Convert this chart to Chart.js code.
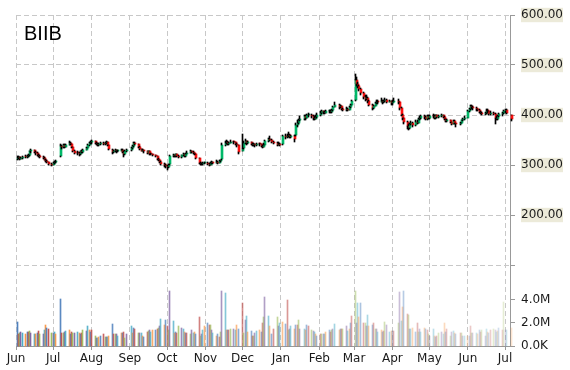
<!DOCTYPE html>
<html><head><meta charset="utf-8">
<script src="https://cdn.jsdelivr.net/npm/chart.js@4/dist/chart.umd.min.js"></script>
<style>html,body{margin:0;padding:0;background:#fff}#wrap{width:570px;height:370px;position:relative}</style>
</head><body><div id="wrap"><canvas id="c" width="570" height="370"></canvas></div>
<script>
const titleText = 'BIIB';

// ---- daily data by month: trading days, [open, high, low, close], volume (millions) ----
const jun14Days = [2,3,4,5,6,9,10,11,12,13,16,17,18,19,20,23,24,25,26,27,30];
const jun14Ohlc = [[312,318,310,314],[314,318,312,316],[316,317,311,313],[313,317,312,315],[315,319,313,317],[318,320,314,316],[316,321,315,318],[318,323,317,320],[320,329,319,327],[327,333,325,330],[330,331,324,326],[326,328,321,324],[324,326,318,320],[321,323,316,318],[318,320,314,317],[317,318,312,315],[315,316,309,311],[311,313,306,308],[308,310,304,306],[306,307,301,303],[303,305,299,301]];
const jun14Vol = [2.1,1.0,1.1,1.2,1.1,1.0,1.2,1.2,1.3,1.1,1.0,1.0,1.1,1.3,1.0,1.0,1.4,1.8,1.6,1.5,1.1];

const jul14Days = [1,2,3,7,8,9,10,11,14,15,16,17,18,21,22,23,24,25,28,29,30,31];
const jul14Ohlc = [[301,306,300,304],[304,308,302,306],[306,309,304,307],[318,342,316,338],[338,341,333,336],[336,342,334,340],[340,342,334,337],[337,343,336,341],[341,349,340,345],[345,347,340,342],[342,343,334,336],[336,337,326,328],[328,330,322,325],[325,328,321,324],[324,326,319,322],[322,329,321,327],[327,330,324,326],[326,333,325,331],[331,337,330,335],[335,342,334,340],[340,346,338,344],[344,349,342,346]];
const jul14Vol = [1.1,1.2,1.0,4.1,1.1,1.1,1.2,1.3,1.4,1.0,1.2,1.1,1.1,1.2,1.1,1.0,1.1,1.4,1.3,1.7,1.4,1.2];

const aug14Days = [1,4,5,6,7,8,11,12,13,14,15,18,19,20,21,22,25,26,27,28,29];
const aug14Ohlc = [[346,350,342,348],[348,349,343,345],[345,347,341,343],[343,345,339,341],[341,345,339,342],[342,346,340,344],[344,346,341,343],[343,346,341,344],[344,348,343,346],[346,347,338,340],[340,341,330,332],[331,333,323,326],[326,330,324,328],[328,332,326,330],[330,331,325,327],[327,331,326,329],[329,333,328,331],[331,332,324,326],[326,327,317,322],[322,330,321,328],[328,332,326,330]];
const aug14Vol = [1.35,0.9,0.7,0.7,0.8,0.9,1.0,0.8,0.8,0.8,0.9,1.9,1.0,1.0,1.0,0.9,1.1,1.1,1.2,0.7,1.0];

const sep14Days = [2,3,4,5,8,9,10,11,12,15,16,17,18,19,22,23,24,25,26,29,30];
const sep14Ohlc = [[330,336,329,334],[334,340,333,338],[338,347,337,345],[345,346,340,342],[342,343,335,337],[337,338,330,332],[332,333,327,328],[328,332,327,330],[330,331,325,327],[327,328,322,325],[325,329,324,327],[327,328,321,323],[323,325,320,322],[322,323,318,320],[320,321,316,318],[318,319,311,313],[313,315,308,310],[310,311,304,306],[306,308,301,303],[303,304,297,300],[300,302,295,298]];
const sep14Vol = [1.7,1.1,1.6,1.5,1.1,1.1,1.1,0.9,0.8,1.2,1.3,1.4,1.2,1.4,1.4,1.5,1.6,1.7,2.35,1.8,2.26];

const oct14Days = [1,2,3,6,7,8,9,10,13,14,15,16,17,20,21,22,23,24,27,28,29,30,31];
const oct14Ohlc = [[298,301,290,296],[296,303,294,300],[302,320,301,318],[318,323,316,320],[320,321,316,318],[318,323,317,322],[322,323,317,319],[319,320,315,317],[317,321,315,320],[320,324,319,322],[322,323,316,318],[318,325,317,323],[323,328,322,325],[325,330,324,327],[327,329,324,326],[326,328,322,324],[324,325,320,322],[322,323,312,314],[314,315,303,305],[305,307,301,303],[303,305,300,302],[302,306,301,304],[304,307,302,305]];
const oct14Vol = [1.7,1.4,4.8,2.2,1.1,1.2,1.1,1.7,1.6,1.5,1.2,1.15,1.1,1.0,1.4,1.1,1.2,1.0,2.55,0.9,1.0,1.4,1.7];

const nov14Days = [3,4,5,6,7,10,11,12,13,14,17,18,19,20,21,24,25,26,28];
const nov14Ohlc = [[305,307,300,303],[303,305,299,301],[301,306,300,304],[304,308,303,306],[306,307,302,305],[305,309,304,307],[307,308,303,305],[305,310,304,308],[308,311,306,309],[312,344,311,340],[340,349,338,345],[345,350,343,346],[346,348,341,343],[343,347,341,345],[345,350,344,347],[347,349,343,346],[346,347,340,343],[343,344,337,340],[340,341,323,326]];
const nov14Vol = [2.0,1.8,1.8,1.4,1.1,0.9,1.0,0.8,1.2,4.8,4.6,1.4,1.4,1.4,1.5,1.5,1.4,1.8,1.5];

const dec14Days = [1,2,3,4,5,8,9,10,11,12,15,16,17,18,19,22,23,24,26,29,30,31];
const dec14Ohlc = [[328,362,327,333],[335,348,333,345],[345,352,343,348],[348,349,341,344],[344,348,343,346],[346,347,340,343],[343,345,338,341],[341,345,339,342],[342,343,337,340],[340,345,339,343],[343,345,339,342],[342,343,336,339],[339,341,335,337],[337,344,336,341],[341,350,340,348],[348,355,346,352],[352,358,349,350],[350,352,344,346],[346,349,342,344],[344,347,339,341],[341,346,340,343],[343,345,338,340]];
const dec14Vol = [3.7,1.1,2.26,2.6,1.2,1.3,0.9,0.9,1.1,1.3,1.4,1.2,2.0,2.55,4.3,2.6,1.7,1.0,1.5,2.5,1.7,2.0];

const jan15Days = [2,5,6,7,8,9,12,13,14,15,16,20,21,22,23,26,27,28,29,30];
const jan15Ohlc = [[342,360,341,358],[358,362,353,356],[356,363,355,359],[359,366,357,361],[361,363,354,357],[357,361,355,358],[358,360,347,352],[360,384,358,380],[380,389,377,385],[385,393,383,390],[390,397,388,393],[393,401,391,397],[397,399,391,395],[395,402,394,399],[399,404,396,401],[401,402,394,398],[398,399,391,395],[395,397,390,393],[393,399,392,396],[396,404,394,400]];
const jan15Vol = [2.1,1.9,4.0,1.4,1.45,1.7,1.5,1.8,1.8,2.26,1.5,1.5,1.4,1.8,1.7,1.4,1.3,1.2,1.0,0.9];

const feb15Days = [2,3,4,5,6,9,10,11,12,13,17,18,19,20,23,24,25,26,27];
const feb15Ohlc = [[400,407,398,404],[404,410,402,408],[408,409,403,406],[406,408,403,405],[405,410,404,407],[407,411,405,409],[409,410,404,406],[406,412,405,410],[410,419,409,416],[416,427,415,420],[420,422,413,415],[415,420,414,418],[418,419,410,412],[412,414,407,410],[410,415,409,413],[413,414,408,411],[411,417,410,415],[415,423,414,421],[421,431,420,428]];
const feb15Vol = [1.0,1.05,1.05,1.0,1.2,1.4,1.2,1.4,1.5,1.9,1.4,1.5,1.45,1.5,1.7,1.3,1.5,2.0,2.6];

const mar15Days = [2,3,4,5,6,9,10,11,12,13,16,17,18,19,20,23,24,25,26,27,30,31];
const mar15Ohlc = [[430,483,428,470],[470,476,458,463],[463,466,454,458],[458,460,448,452],[452,455,441,445],[445,447,432,436],[436,440,428,432],[432,440,430,435],[435,437,424,428],[428,430,418,421],[421,423,410,414],[414,420,412,418],[418,427,417,424],[424,431,422,427],[427,430,423,426],[426,433,425,429],[429,430,422,425],[425,430,424,428],[428,433,426,430],[430,432,424,427],[427,431,425,428],[428,429,421,424]];
const mar15Vol = [4.8,2.0,3.7,2.55,3.7,2.0,2.0,1.7,2.7,1.7,1.8,2.0,1.5,1.45,1.25,1.4,1.25,1.3,2.1,1.8,1.25,1.3];

const apr15Days = [1,2,6,7,8,9,10,13,14,15,16,17,20,21,22,23,24,27,28,29,30];
const apr15Ohlc = [[424,430,421,426],[426,433,425,429],[429,432,423,426],[426,427,411,414],[414,415,397,400],[400,403,390,394],[394,395,382,386],[386,388,372,378],[378,381,370,374],[374,385,373,382],[382,388,380,384],[384,386,377,380],[380,389,379,386],[386,390,383,385],[385,394,384,392],[392,397,390,394],[394,400,392,397],[397,401,393,396],[396,398,389,392],[392,400,391,398],[398,400,392,395]];
const apr15Vol = [1.3,1.3,2.0,4.7,2.2,3.4,4.8,2.8,2.7,1.45,1.45,1.6,1.25,2.0,1.25,1.45,1.2,1.6,1.45,1.4,1.0];

const may15Days = [1,4,5,6,7,8,11,12,13,14,15,18,19,20,21,22,26,27,28,29];
const may15Ohlc = [[395,400,393,398],[398,402,395,397],[397,399,392,395],[395,401,393,399],[399,400,394,396],[396,401,395,398],[398,403,396,399],[399,400,394,396],[396,397,390,392],[392,393,386,388],[388,392,387,390],[390,391,384,386],[386,387,380,383],[383,390,382,388],[388,389,382,384],[384,385,377,381],[381,387,380,385],[385,391,384,389],[389,394,388,392],[392,397,390,395]];
const may15Vol = [0.9,1.45,0.85,0.8,0.85,1.1,1.25,1.0,1.97,1.25,1.45,0.85,1.2,1.3,1.1,1.0,1.1,1.15,0.9,0.9];

const jun15Days = [1,2,3,4,5,8,9,10,11,12,15,16,17,18,19,22,23,24,25,26,29,30];
const jun15Ohlc = [[395,411,394,408],[408,414,406,412],[412,420,411,418],[418,421,413,415],[415,418,411,414],[414,416,409,412],[412,413,407,410],[410,412,404,406],[406,408,402,404],[404,406,400,402],[402,406,399,404],[404,412,403,409],[409,413,405,407],[407,409,400,402],[402,407,401,405],[405,406,400,403],[403,404,381,395],[395,397,389,392],[392,400,391,398],[398,404,396,402],[402,406,398,404],[404,410,403,407]];
const jun15Vol = [0.9,0.9,1.7,1.15,1.15,1.1,1.0,1.4,1.25,1.4,0.9,1.45,1.25,1.1,1.4,1.45,1.4,1.25,1.3,1.55,1.4,3.8];

const jul15Days = [1,2,6];
const jul15Ohlc = [[407,413,404,410],[410,412,403,405],[400,401,388,392]];
const jul15Vol = [1.4,1.4,1.55];

// ---- axis tick definitions ----
const monthLabels = ['Jun','Jul','Aug','Sep','Oct','Nov','Dec','Jan','Feb','Mar','Apr','May','Jun','Jul'];
const monthTickDates = [[2014,5],[2014,6],[2014,7],[2014,8],[2014,9],[2014,10],[2014,11],[2015,0],[2015,1],[2015,2],[2015,3],[2015,4],[2015,5],[2015,6]];
const priceTicks = [100,200,300,400,500,600];
const priceTickLabels = ['','200.00','300.00','400.00','500.00','600.00'];
const volTicks = [0,2e6,4e6];
const volTickLabels = ['0.0K','2.0M','4.0M'];

// ---- assemble ----
const months = [
  [2014,5,jun14Days,jun14Ohlc,jun14Vol],[2014,6,jul14Days,jul14Ohlc,jul14Vol],
  [2014,7,aug14Days,aug14Ohlc,aug14Vol],[2014,8,sep14Days,sep14Ohlc,sep14Vol],
  [2014,9,oct14Days,oct14Ohlc,oct14Vol],[2014,10,nov14Days,nov14Ohlc,nov14Vol],
  [2014,11,dec14Days,dec14Ohlc,dec14Vol],[2015,0,jan15Days,jan15Ohlc,jan15Vol],
  [2015,1,feb15Days,feb15Ohlc,feb15Vol],[2015,2,mar15Days,mar15Ohlc,mar15Vol],
  [2015,3,apr15Days,apr15Ohlc,apr15Vol],[2015,4,may15Days,may15Ohlc,may15Vol],
  [2015,5,jun15Days,jun15Ohlc,jun15Vol],[2015,6,jul15Days,jul15Ohlc,jul15Vol]
];
const BASE = Date.UTC(2014,5,1);
const dayOffset = (y,m,d) => Math.round((Date.UTC(y,m,d)-BASE)/864e5);
const X_MAX = dayOffset(2015,6,5);

const PRICE_MIN = -62, PRICE_MAX = 600, VOL_MAX = 28.78e6;
const volToPrice = v => PRICE_MIN + v/VOL_MAX*(PRICE_MAX-PRICE_MIN);

const wicks=[], bodies=[], bodyColors=[], vols=[], volColors=[];
months.forEach(([y,m,days,ohlc,vol])=>{
  days.forEach((d,i)=>{
    const x = dayOffset(y,m,d);
    const [o,h,l,c] = ohlc[i];
    const top = Math.max(o,c), bot = Math.min(o,c);
    if (h > top) wicks.push({x, y:[top,h]});
    if (l < bot) wicks.push({x, y:[l,bot]});
    bodies.push({x, y:[o,c]});
    bodyColors.push(c>=o ? '#00b868' : '#ff1010');
    vols.push({x, y: vol[i]*1e6});
  });
});
const palette = [[79,129,189],[192,80,77],[155,187,89],[128,100,162],[75,172,198],[247,150,70]];
vols.forEach((v,i)=>{
  const a = 1 - 0.75*i/(vols.length-1);
  const p = palette[i%palette.length];
  volColors.push(`rgba(${p[0]},${p[1]},${p[2]},${a.toFixed(3)})`);
});

const allYTicks = [...volTicks.map(volToPrice), ...priceTicks];
const allYLabels = [...volTickLabels, ...priceTickLabels];
const monthTickOffsets = monthTickDates.map(([y,m])=>dayOffset(y,m,1));

const fontSpec = {family:'"DejaVu Sans", Verdana, sans-serif', size:12};

// snap bar elements (placed by the scales) to whole device pixels for crisp thin marks
const snapPlugin = {
  id:'pixelSnap',
  afterDatasetsUpdate(chart){
    chart.data.datasets.forEach((ds,i)=>{
      const meta = chart.getDatasetMeta(i);
      meta.data.forEach(el=>{
        const p = Math.floor(el.x);
        let top = Math.round(Math.min(el.y, el.base));
        let bot = Math.round(Math.max(el.y, el.base));
        if (ds.snap !== 'wick' && bot - top < 1) bot = top + 1;
        if (ds.snap === 'wick') { el.x = p + 0.5; el.width = 1; }
        else if (ds.snap === 'body') { el.x = p + 1; el.width = 2; }
        else { el.x = p + 0.5; el.width = 1; }
        el.y = top; el.base = bot;
      });
    });
  }
};

const titlePlugin = {
  id:'cornerTitle',
  afterDraw(chart){
    const ctx = chart.ctx;
    ctx.save();
    ctx.font = '20px "Liberation Sans", Arial, sans-serif';
    ctx.fillStyle = '#000';
    ctx.textBaseline = 'alphabetic';
    ctx.textAlign = 'left';
    ctx.fillText(titleText, 24, 39.5);
    ctx.restore();
  }
};

new Chart(document.getElementById('c'), {
  type:'bar',
  data:{datasets:[
    {label:'wick', snap:'wick', data:wicks, backgroundColor:'#000', barThickness:1, yAxisID:'y', clip:false},
    {label:'body', snap:'body', data:bodies, backgroundColor:bodyColors, barThickness:2, minBarLength:1, yAxisID:'y', clip:false},
    {label:'volume', snap:'vol', data:vols, backgroundColor:volColors, barThickness:1, yAxisID:'yv', clip:false}
  ]},
  options:{
    responsive:false, animation:false,
    layout:{padding:{left:16, top:15, right:0, bottom:0}},
    datasets:{bar:{grouped:false, borderWidth:0}},
    plugins:{legend:{display:false}, tooltip:{enabled:false}},
    scales:{
      x:{type:'linear', min:0, max:X_MAX, offset:false,
        afterBuildTicks(s){ s.ticks = monthTickOffsets.map(v=>({value:v})); },
        afterFit(s){ s.height = 24; },
        ticks:{autoSkip:false, maxRotation:0, padding:2, color:'#1a1a1a', font:fontSpec,
          callback:(v,i)=>monthLabels[i]},
        grid:{offset:false, color:'#c8c8c8', tickColor:'#999', tickLength:4},
        border:{color:'#999', dash:[5,3]}
      },
      y:{type:'linear', position:'right', min:PRICE_MIN, max:PRICE_MAX,
        afterBuildTicks(s){ s.ticks = allYTicks.map(v=>({value:v})); },
        afterFit(s){ s.width = 60; },
        ticks:{autoSkip:false, padding:6, color:'#1a1a1a', font:fontSpec,
          callback:(v,i)=>allYLabels[i],
          showLabelBackdrop:(c)=> !!(c.tick && c.tick.value >= 150),
          backdropColor:'#ecead9', backdropPadding:0},
        grid:{color:(c)=> (c.tick && c.tick.value >= 50) ? '#c8c8c8' : 'rgba(0,0,0,0)', tickColor:'#999', tickLength:5},
        border:{color:'#999', dash:[5,3]}
      },
      yv:{type:'linear', display:false, min:0, max:VOL_MAX}
    }
  },
  plugins:[snapPlugin, titlePlugin]
});
</script></body></html>
